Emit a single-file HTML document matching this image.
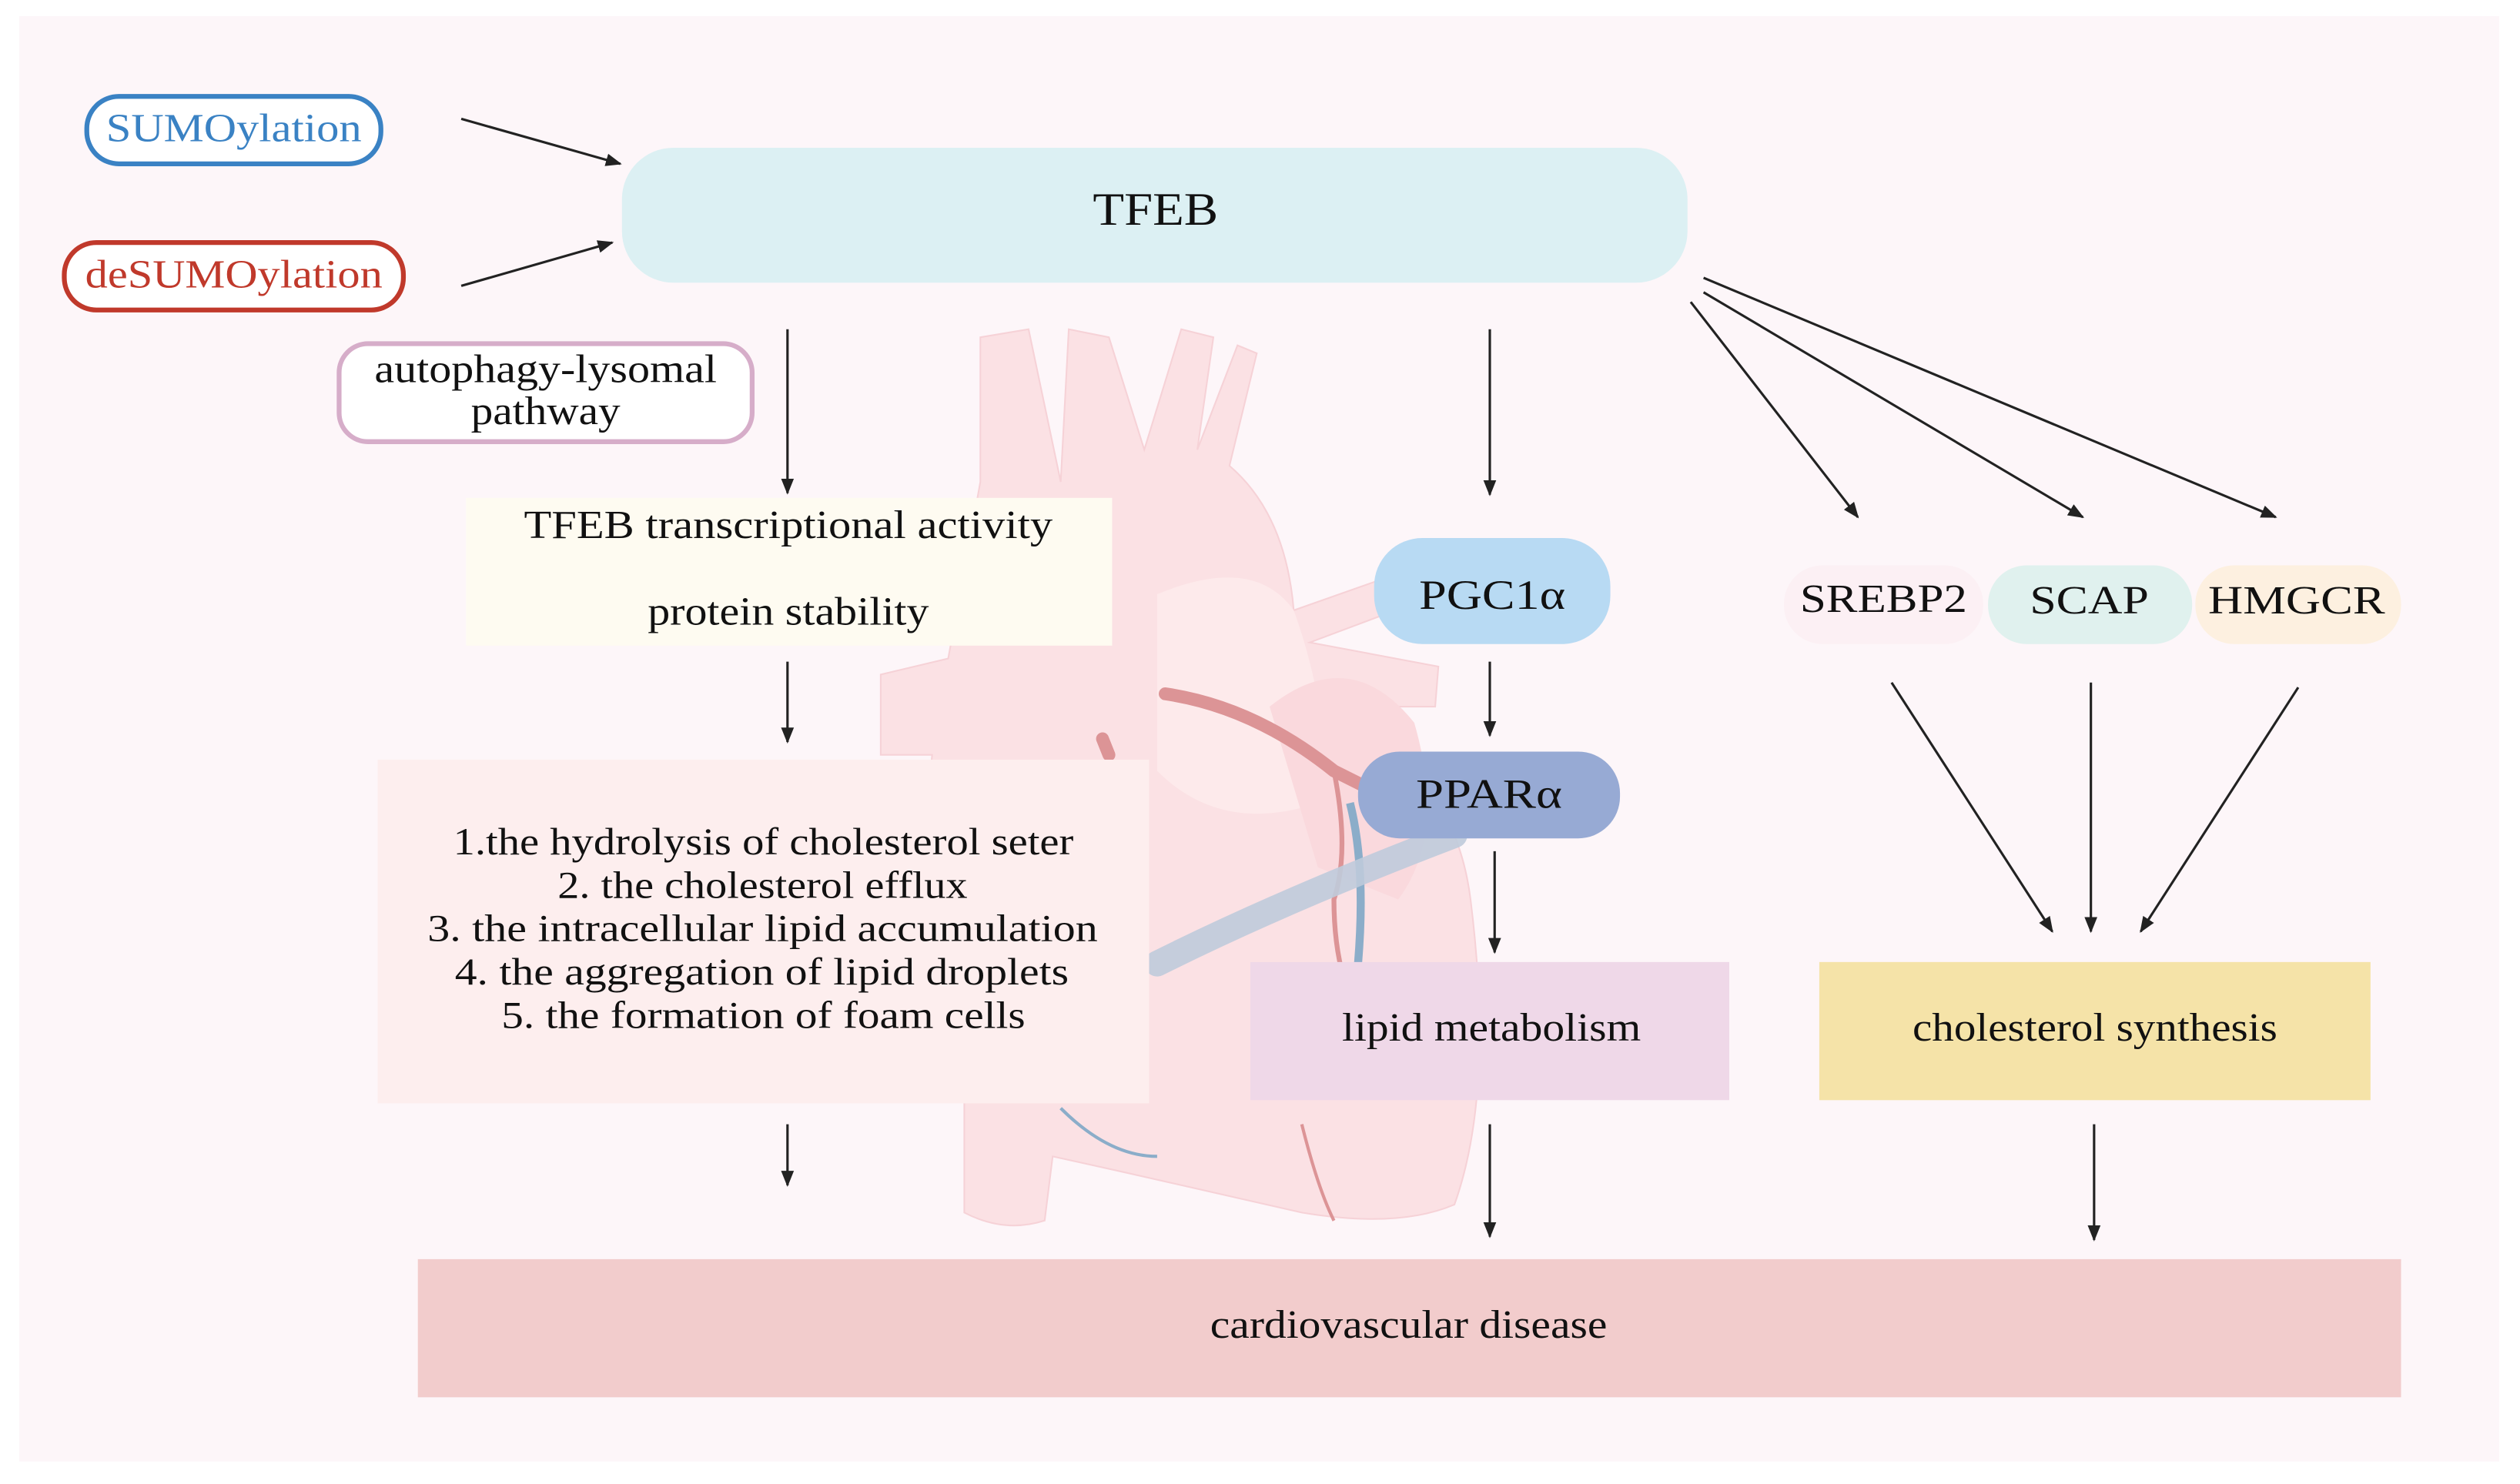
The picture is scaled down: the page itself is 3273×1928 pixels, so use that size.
<!DOCTYPE html>
<html><head><meta charset="utf-8"><style>
html,body{margin:0;padding:0;background:#fff}
svg{display:block}
text{font-family:"Liberation Serif","Times New Roman","DejaVu Serif",serif;fill:#111}
</style></head><body>
<svg width="3273" height="1928" viewBox="0 0 1568 924" preserveAspectRatio="none" xmlns="http://www.w3.org/2000/svg">
<defs>
<marker id="a" markerWidth="10" markerHeight="10" refX="9" refY="5" orient="auto" markerUnits="userSpaceOnUse"><path d="M0,1 L10,5 L0,9 Z" fill="#222"/></marker>
</defs>
<rect x="0" y="0" width="1568" height="924" fill="#fff"/>
<rect x="12" y="10" width="1543" height="900" fill="#fdf6f9"/>

<g opacity="0.9">
<path d="M610,210 L640,205 L660,300 L665,205 L690,210 L712,280 L735,205 L755,210 L745,280 L770,215 L782,220 L765,290 Q800,320 805,380 L890,350 L895,370 L815,400 L895,415 L893,440 L830,440 Q905,480 915,560 Q930,680 905,750 Q870,765 810,755 L700,730 L655,720 L650,760 Q625,768 600,755 L600,640 Q570,560 580,470 L548,470 L548,420 L590,410 L610,300 Z" fill="#fbdfe2" stroke="#f6cfd4" stroke-width="1"/>
<path d="M720,370 Q780,345 805,380 Q830,450 820,500 Q760,520 720,480 Z" fill="#fde9ea"/>
<path d="M790,440 Q840,400 880,450 Q900,520 870,560 L820,540 Z" fill="#fad6da"/>
<path d="M725,432 Q780,440 830,480 L860,495" stroke="#d98a8c" stroke-width="8" fill="none" stroke-linecap="round"/>
<path d="M830,480 Q840,530 830,560 Q830,610 850,640" stroke="#d98a8c" stroke-width="3" fill="none"/>
<path d="M840,500 Q850,540 845,600" stroke="#7fa6c4" stroke-width="5" fill="none"/>
<path d="M720,600 Q800,560 905,520" stroke="#b8c6d8" stroke-width="16" fill="none" stroke-linecap="round" opacity="0.9"/>
<path d="M690,470 L686,460" stroke="#d98a8c" stroke-width="8" stroke-linecap="round"/>
<path d="M660,690 Q690,720 720,720" stroke="#7fa6c4" stroke-width="2" fill="none"/>
<path d="M810,700 Q820,740 830,760" stroke="#d98a8c" stroke-width="2" fill="none"/>
</g>

<rect x="54" y="60" width="183" height="42" rx="20" fill="#fff" stroke="#3a82c4" stroke-width="3"/>
<text x="66" y="88" font-size="25" textLength="159" lengthAdjust="spacingAndGlyphs" style="fill:#3a82c4">SUMOylation</text>
<rect x="40" y="151" width="211" height="42" rx="20" fill="#fff" stroke="#c0392b" stroke-width="3"/>
<text x="53" y="179" font-size="25" textLength="185" lengthAdjust="spacingAndGlyphs" style="fill:#c0392b">deSUMOylation</text>
<line x1="287" y1="74" x2="386" y2="102" stroke="#222" stroke-width="1.5" marker-end="url(#a)"/>
<line x1="287" y1="178" x2="381" y2="151" stroke="#222" stroke-width="1.5" marker-end="url(#a)"/>

<rect x="387" y="92" width="663" height="84" rx="32" fill="#dcf0f3"/>
<text x="680" y="140" font-size="29" textLength="78" lengthAdjust="spacingAndGlyphs">TFEB</text>

<rect x="211" y="214" width="257" height="61" rx="18" fill="#fff" stroke="#d6adc9" stroke-width="3"/>
<text x="233" y="238" font-size="25" textLength="213" lengthAdjust="spacingAndGlyphs">autophagy-lysomal</text>
<text x="293" y="264" font-size="25" textLength="93" lengthAdjust="spacingAndGlyphs">pathway</text>

<line x1="490" y1="205" x2="490" y2="307" stroke="#222" stroke-width="1.5" marker-end="url(#a)"/>
<rect x="290" y="310" width="402" height="92" fill="#fefbf1"/>
<text x="326" y="335" font-size="25" textLength="329" lengthAdjust="spacingAndGlyphs">TFEB transcriptional activity</text>
<text x="403" y="389" font-size="25" textLength="175" lengthAdjust="spacingAndGlyphs">protein stability</text>

<line x1="490" y1="412" x2="490" y2="462" stroke="#222" stroke-width="1.5" marker-end="url(#a)"/>
<rect x="235" y="473" width="480" height="214" fill="#fdeeee"/>
<g font-size="24">
<text x="282" y="532" textLength="386" lengthAdjust="spacingAndGlyphs">1.the hydrolysis of cholesterol seter</text>
<text x="347" y="559" textLength="255" lengthAdjust="spacingAndGlyphs">2. the cholesterol efflux</text>
<text x="266" y="586" textLength="417" lengthAdjust="spacingAndGlyphs">3. the intracellular lipid accumulation</text>
<text x="283" y="613" textLength="382" lengthAdjust="spacingAndGlyphs">4. the aggregation of lipid droplets</text>
<text x="312" y="640" textLength="326" lengthAdjust="spacingAndGlyphs">5. the formation of foam cells</text>
</g>
<line x1="490" y1="700" x2="490" y2="738" stroke="#222" stroke-width="1.5" marker-end="url(#a)"/>

<line x1="927" y1="205" x2="927" y2="308" stroke="#222" stroke-width="1.5" marker-end="url(#a)"/>
<rect x="855" y="335" width="147" height="66" rx="30" fill="#b8daf3"/>
<text x="883" y="379" font-size="26" textLength="91" lengthAdjust="spacingAndGlyphs">PGC1α</text>
<line x1="927" y1="412" x2="927" y2="458" stroke="#222" stroke-width="1.5" marker-end="url(#a)"/>
<rect x="845" y="468" width="163" height="54" rx="26" fill="#97aad4"/>
<text x="881" y="503" font-size="26" textLength="91" lengthAdjust="spacingAndGlyphs">PPARα</text>
<line x1="930" y1="530" x2="930" y2="593" stroke="#222" stroke-width="1.5" marker-end="url(#a)"/>
<rect x="778" y="599" width="298" height="86" fill="#efd8e8"/>
<text x="835" y="648" font-size="25" textLength="186" lengthAdjust="spacingAndGlyphs">lipid metabolism</text>
<line x1="927" y1="700" x2="927" y2="770" stroke="#222" stroke-width="1.5" marker-end="url(#a)"/>

<line x1="1052" y1="188" x2="1156" y2="322" stroke="#222" stroke-width="1.5" marker-end="url(#a)"/>
<line x1="1060" y1="182" x2="1296" y2="322" stroke="#222" stroke-width="1.5" marker-end="url(#a)"/>
<line x1="1060" y1="173" x2="1416" y2="322" stroke="#222" stroke-width="1.5" marker-end="url(#a)"/>
<rect x="1110" y="352" width="124" height="49" rx="24" fill="#fcf0f4"/>
<text x="1120" y="381" font-size="25" textLength="104" lengthAdjust="spacingAndGlyphs">SREBP2</text>
<rect x="1237" y="352" width="127" height="49" rx="24" fill="#e0f1ee"/>
<text x="1263" y="382" font-size="25" textLength="74" lengthAdjust="spacingAndGlyphs">SCAP</text>
<rect x="1366" y="352" width="128" height="49" rx="24" fill="#fdf0e0"/>
<text x="1374" y="382" font-size="25" textLength="110" lengthAdjust="spacingAndGlyphs">HMGCR</text>
<line x1="1177" y1="425" x2="1277" y2="580" stroke="#222" stroke-width="1.5" marker-end="url(#a)"/>
<line x1="1301" y1="425" x2="1301" y2="580" stroke="#222" stroke-width="1.5" marker-end="url(#a)"/>
<line x1="1430" y1="428" x2="1332" y2="580" stroke="#222" stroke-width="1.5" marker-end="url(#a)"/>
<rect x="1132" y="599" width="343" height="86" fill="#f5e3a8"/>
<text x="1190" y="648" font-size="25" textLength="227" lengthAdjust="spacingAndGlyphs">cholesterol synthesis</text>
<line x1="1303" y1="700" x2="1303" y2="772" stroke="#222" stroke-width="1.5" marker-end="url(#a)"/>

<rect x="260" y="784" width="1234" height="86" fill="#f2cccc"/>
<text x="753" y="833" font-size="25" textLength="247" lengthAdjust="spacingAndGlyphs">cardiovascular disease</text>
</svg>
</body></html>
